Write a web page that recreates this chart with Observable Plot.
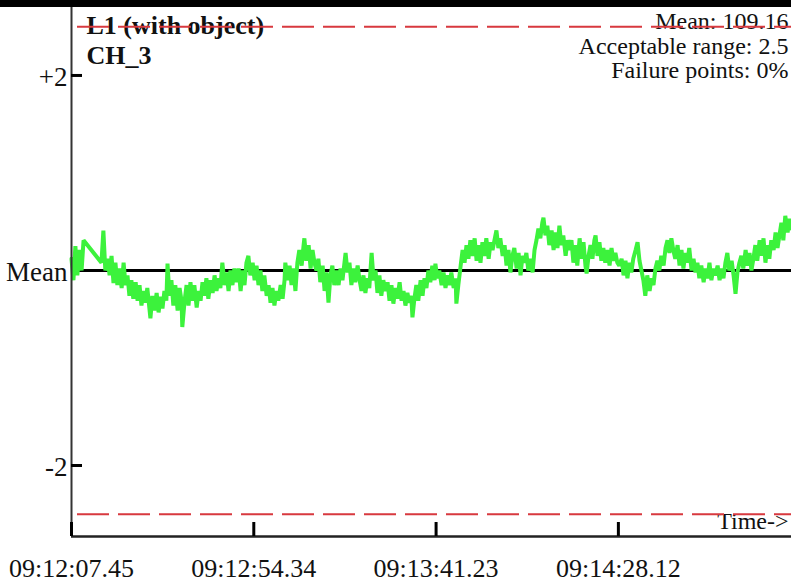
<!DOCTYPE html>
<html><head><meta charset="utf-8">
<script src="https://cdn.jsdelivr.net/npm/d3@7"></script>
<script src="https://cdn.jsdelivr.net/npm/@observablehq/plot@0.6"></script>
<style>
html,body{margin:0;padding:0;background:#fff;}
#chart{width:791px;height:579px;border-top:7px solid #000;}
#chart svg{display:block;}
</style></head><body><div id="chart"></div><script>
// elapsed seconds since 09:12:07.45
const t = [
0.0,0.5,1.0,1.5,2.1,2.6,3.1,7.7,8.2,8.7,
9.3,9.8,10.3,10.8,11.3,11.8,12.3,12.9,13.4,13.9,
14.4,14.9,15.4,15.9,16.5,17.0,17.5,18.0,18.5,19.0,
19.5,20.3,20.8,21.3,21.9,22.4,22.9,23.4,23.9,24.4,
24.7,25.2,25.7,26.2,26.7,27.3,27.8,28.3,28.5,29.1,
29.6,30.1,30.6,31.1,31.6,32.2,32.7,33.2,33.7,34.2,
34.7,35.2,35.8,36.3,36.8,37.3,37.8,38.3,38.8,39.4,
39.9,40.4,40.9,41.4,41.9,42.4,43.0,43.5,44.0,44.5,
45.0,45.5,46.0,46.6,47.1,47.6,48.1,48.6,49.1,49.6,
50.2,50.7,51.2,51.7,52.2,52.7,53.2,53.8,54.3,54.8,
55.0,55.6,56.1,56.6,57.1,57.6,58.1,58.6,59.2,59.7,
59.9,60.4,61.0,61.5,62.0,62.5,63.0,63.5,64.0,64.6,
65.1,65.6,66.1,66.6,67.1,67.6,68.2,68.7,69.2,69.7,
70.5,71.0,71.5,72.0,72.5,73.0,73.6,74.1,74.6,75.1,
75.6,76.1,76.6,77.2,77.7,78.2,78.7,79.2,79.7,80.2,
80.8,81.3,81.8,82.3,82.8,83.3,83.8,84.4,84.9,85.4,
85.9,86.4,86.9,87.4,87.7,88.2,88.7,89.2,89.8,90.3,
90.8,91.3,91.8,92.3,92.8,93.4,93.6,94.1,94.6,95.2,
95.7,96.2,96.7,97.2,97.7,98.3,98.8,99.0,99.5,100.1,
100.6,101.1,101.6,102.1,102.6,103.1,103.7,104.2,104.7,105.2,
105.7,106.2,106.7,107.3,107.8,108.3,108.8,109.3,109.8,110.3,
110.9,111.4,111.9,112.4,112.9,113.4,113.9,114.5,115.0,115.5,
116.0,116.5,117.0,117.5,118.1,118.6,119.1,119.6,120.1,120.6,
121.1,121.4,121.9,122.4,122.9,123.5,124.0,124.5,125.0,125.5,
126.0,126.5,127.1,127.6,128.1,128.6,129.1,129.6,130.1,130.7,
131.2,131.7,132.2,132.5,133.0,133.5,134.0,134.5,134.8,135.3,
135.8,136.3,136.8,137.3,137.9,138.4,138.9,139.4,139.9,140.4,
140.9,141.5,142.0,142.5,143.0,143.5,144.0,144.5,145.1,145.6,
146.1,146.6,147.1,147.6,148.1,148.7,149.2,149.7,150.2,150.7,
151.2,151.7,152.3,152.8,153.3,153.8,154.3,154.8,155.3,155.9,
156.4,156.9,157.4,157.9,158.4,158.9,159.5,160.0,160.5,161.0,
161.5,162.0,162.6,163.1,163.6,164.1,164.6,165.1,165.6,166.2,
166.7,167.2,167.7,168.2,168.7,169.2,169.8,170.3,170.8,171.3,
171.8,172.3,172.8,173.4,173.9,174.4,174.9,175.4,175.9,176.4,
177.0,177.5,178.0,178.5,179.0,179.5,180.0,180.6,181.1,181.6,
182.1,182.6,183.1,183.6,184.2,184.7,185.2
];
// deviation from mean
const v = [
0.12,-0.10,0.25,-0.05,0.21,0.00,0.31,0.08,0.41,0.00,
0.12,-0.05,0.15,-0.13,0.08,-0.15,0.02,-0.18,0.08,-0.15,
-0.05,-0.26,-0.10,-0.29,-0.12,-0.31,-0.15,-0.36,-0.21,-0.33,
-0.18,-0.49,-0.26,-0.41,-0.23,-0.43,-0.27,-0.39,-0.21,-0.31,
0.07,-0.26,-0.10,-0.36,-0.15,-0.41,-0.18,-0.31,-0.58,-0.31,
-0.15,-0.36,-0.12,-0.31,-0.15,-0.38,-0.21,-0.31,-0.12,-0.26,
-0.08,-0.29,-0.10,-0.23,-0.05,-0.21,-0.08,-0.18,0.08,-0.15,
-0.02,-0.21,0.00,-0.15,0.02,-0.12,0.02,-0.21,0.00,-0.15,
0.08,0.15,-0.05,0.08,-0.10,0.05,-0.15,0.00,-0.21,-0.05,
-0.26,-0.15,-0.33,-0.18,-0.36,-0.21,-0.31,-0.15,-0.29,-0.10,
0.08,-0.10,0.05,-0.15,0.02,-0.21,0.08,0.21,0.05,0.26,
0.33,0.10,0.26,0.02,0.21,0.08,0.00,0.12,-0.12,0.05,
-0.21,-0.02,-0.33,-0.05,0.05,-0.15,0.00,-0.15,0.02,-0.10,
0.18,-0.02,0.08,-0.15,0.02,-0.12,0.05,-0.10,-0.21,-0.05,
-0.23,-0.08,-0.18,0.18,-0.10,0.00,-0.23,-0.05,-0.26,-0.10,
-0.21,-0.12,-0.31,-0.15,-0.34,-0.18,-0.29,-0.12,-0.31,-0.21,
-0.36,-0.23,-0.33,-0.26,-0.48,-0.29,-0.15,-0.31,-0.10,-0.26,
-0.08,-0.18,0.00,-0.12,0.05,-0.10,0.07,-0.08,0.00,-0.15,
-0.02,-0.18,-0.05,-0.15,-0.02,-0.18,-0.08,-0.34,-0.15,0.05,
0.21,0.08,0.26,0.12,0.31,0.15,0.33,0.10,0.26,0.08,
0.29,0.15,0.33,0.12,0.29,0.21,0.31,0.41,0.23,0.33,
0.15,0.26,0.05,0.21,-0.02,0.15,0.23,0.02,0.18,-0.05,
0.15,0.08,0.18,0.00,0.12,-0.02,0.21,0.31,0.43,0.33,
0.49,0.54,0.36,0.46,0.26,0.41,0.21,0.39,0.23,0.46,
0.26,0.36,0.15,0.31,0.21,0.31,0.08,0.26,0.05,0.33,
0.12,0.29,0.05,-0.03,0.15,0.26,0.12,0.31,0.36,0.15,
0.29,0.10,0.23,0.08,0.21,0.05,0.23,0.10,0.18,0.08,
0.05,0.12,-0.05,0.10,-0.08,0.08,-0.02,0.12,0.21,0.29,
0.10,0.00,-0.10,-0.26,-0.05,-0.21,-0.08,-0.15,0.02,0.10,
0.00,0.15,0.05,0.23,0.31,0.18,0.33,0.21,0.12,0.26,
0.05,0.21,0.02,0.18,0.08,0.23,0.00,0.12,-0.02,0.08,
-0.08,0.05,-0.12,0.02,-0.08,0.08,-0.10,0.02,-0.05,0.05,
-0.10,0.02,-0.08,0.08,0.18,0.00,0.10,-0.05,-0.24,-0.02,
0.08,0.15,0.02,0.21,0.05,0.18,0.00,0.12,0.26,0.10,
0.31,0.15,0.33,0.08,0.26,0.12,0.31,0.21,0.39,0.23,
0.36,0.49,0.31,0.56,0.39,0.53,0.43
];
const xTickValues = [0, 46.89, 93.78, 140.67];
const xTickLabels = ["09:12:07.45", "09:12:54.34", "09:13:41.23", "09:14:28.12"];
const yTickValues = [-2, 0, 2];
const yTickLabels = ["-2", "Mean", "+2"];
const yTickMarks = [-2, 2];
const limits = [-2.5, 2.5];
const meanValue = [0];
const titleLines = ["L1 (with object)"];
const channelLines = ["CH_3"];
const infoLines = ["Mean: 109.16", "Acceptable range: 2.5", "Failure points: 0%"];
const axisNote = ["Time->"];
const xDomain = [0, 185.2];
const yDomain = [-2.728, 2.697];

const series = t.map((s, i) => ({t: s, v: v[i]}));
const xLab = new Map(xTickValues.map((d, i) => [d, xTickLabels[i]]));
const yLab = new Map(yTickValues.map((d, i) => [d, yTickLabels[i]]));
const serif = "'Liberation Serif', 'Times New Roman', serif";

const plot = Plot.plot({
  width: 791, height: 579,
  marginLeft: 71, marginRight: 0, marginTop: 0, marginBottom: 50,
  style: {fontFamily: serif, color: "#111", background: "white", overflow: "visible"},
  x: {domain: xDomain, axis: null, label: null},
  y: {domain: yDomain, axis: null, label: null},
  marks: [
    Plot.ruleY(meanValue, {stroke: "#000", strokeWidth: 3}),
    Plot.line(series, {x: "t", y: "v", stroke: "#3cf23c", strokeWidth: 4, strokeLinejoin: "miter"}),
    Plot.ruleX([xDomain[0]], {stroke: "#333", strokeWidth: 2}),
    Plot.ruleY([yDomain[0]], {stroke: "#222", strokeWidth: 2.5}),
    Plot.axisX({ticks: xTickValues, tickSize: 14, dy: -14, strokeWidth: 3, stroke: "#000", fill: "none", label: null}),
    Plot.axisX({ticks: xTickValues, tickFormat: d => xLab.get(d), tickSize: 0, tickPadding: 22, fontSize: 26, fontFamily: serif, fill: "#111", label: null}),
    Plot.axisY({ticks: yTickMarks, tickSize: 11, dx: 11, strokeWidth: 3, stroke: "#000", fill: "none", label: null}),
    Plot.axisY({ticks: yTickValues, tickFormat: d => yLab.get(d), tickSize: 0, tickPadding: 4, dy: 2, fontSize: 27, fontFamily: serif, fill: "#111", label: null}),
    Plot.text(titleLines, {frameAnchor: "top-left", dx: 15, dy: 26, lineAnchor: "bottom", textAnchor: "start", fontSize: 26, fontWeight: "bold", fontFamily: serif, fill: "#111"}),
    Plot.text(channelLines, {frameAnchor: "top-left", dx: 15, dy: 56, lineAnchor: "bottom", textAnchor: "start", fontSize: 26, fontWeight: "bold", fontFamily: serif, fill: "#111"}),
    Plot.text([infoLines[0]], {frameAnchor: "top-right", dx: -3, dy: 21, lineAnchor: "bottom", textAnchor: "end", fontSize: 24, fontFamily: serif, fill: "#111"}),
    Plot.text([infoLines[1]], {frameAnchor: "top-right", dx: -3, dy: 46, lineAnchor: "bottom", textAnchor: "end", fontSize: 24, fontFamily: serif, fill: "#111"}),
    Plot.text([infoLines[2]], {frameAnchor: "top-right", dx: -3, dy: 70, lineAnchor: "bottom", textAnchor: "end", fontSize: 24, fontFamily: serif, fill: "#111"}),
    Plot.text(axisNote, {frameAnchor: "bottom-right", dx: -3, dy: -8, lineAnchor: "bottom", textAnchor: "end", fontSize: 24, fontFamily: serif, fill: "#111"}),
    Plot.ruleY(limits, {stroke: "#d8393f", strokeWidth: 2, strokeDasharray: "32,9", strokeDashoffset: 35})
  ]
});
document.getElementById("chart").appendChild(plot);
</script></body></html>
